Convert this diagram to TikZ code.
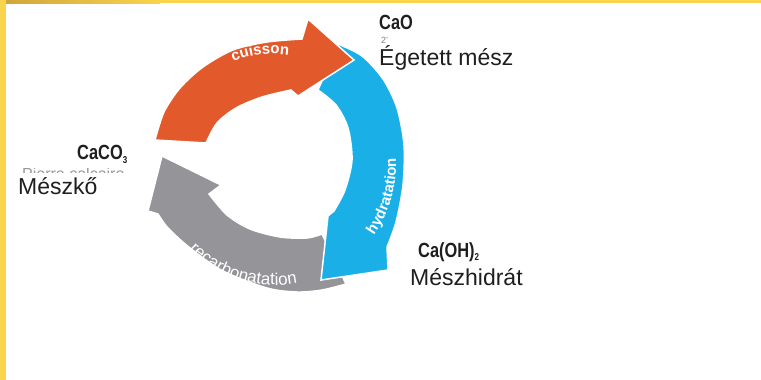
\documentclass[tikz,border=0pt]{standalone}
\usepackage{fontspec}
\setmainfont{Liberation Sans}
\newfontfamily\narrowfont[FakeStretch=0.8]{Liberation Sans}
\usetikzlibrary{calc,decorations.text}
\definecolor{redc}{HTML}{E2592C}
\definecolor{bluec}{HTML}{1BAFE8}
\definecolor{grayc}{HTML}{959599}
\definecolor{yel}{HTML}{F9D44C}
\definecolor{yeldark}{HTML}{CDA53C}
\definecolor{txt}{HTML}{1E1E1E}
\begin{document}
\begin{tikzpicture}[x=1pt,y=1pt,
  arrowshape/.style={draw=white, line width=1.5pt, line join=miter},
  chemlabel/.style={anchor=base west, inner sep=0pt, text=txt, font=\narrowfont\bfseries\fontsize{20.5}{22}\selectfont},
  namelabel/.style={anchor=base west, inner sep=0pt, text=txt, font=\fontsize{23}{26}\selectfont}]
\useasboundingbox (0,0) rectangle (761,-380);
\fill[white] (0,0) rectangle (761,-380);
\fill[yel] (0,0) rectangle (761,-3);
\shade[left color=yeldark, right color=yel] (0,0) rectangle (160,-3);
\fill[yel] (0,0) rectangle (6,-380);
\coordinate (O) at (274,-165);
% gray arrow
\filldraw[grayc, arrowshape] plot[smooth] coordinates {(346,-284) (322,-290) (297,-292) (267,-288) (223,-271) (190,-248) (168,-228) (158,-214)}
  -- (148,-211) -- (162,-156) -- (221,-185) -- (209,-194)
  -- plot[smooth] coordinates {(209,-194) (227,-215) (250,-229) (280,-237) (307,-238) (322,-234)} -- cycle;
% blue arrow
\filldraw[bluec, arrowshape] plot[smooth] coordinates {(338,-44) (362,-56) (383,-79) (397,-108) (404,-145) (403,-185) (396,-222) (387,-247)}
  -- (388,-270) -- (321,-280) -- (328,-216)
  -- plot[smooth] coordinates {(334,-211) (345,-190) (352,-160) (348,-128) (336,-105) (318,-90)} -- cycle;
% red arrow
\filldraw[redc, arrowshape] plot[smooth] coordinates {(155,-140) (164,-112) (180,-88) (203,-67) (233,-50) (267,-42) (302,-39)}
  -- (308,-19) -- (354,-60) -- (298,-96)
  -- plot[smooth] coordinates {(291,-90) (262,-97) (236,-108) (217,-123) (206,-143)} -- cycle;
% arrow labels
\path[decorate, decoration={text along path, text align=center,
  text={|\bfseries\fontsize{15}{15}\selectfont\color{white}|cuisson}}]
  ($(O)+(137:111)$) arc[start angle=137, end angle=57, radius=111];
\path[decorate, decoration={text along path, text align=center,
  text={|\bfseries\fontsize{15}{15}\selectfont\color{white}|hydratation}}]
  ($(O)+(-50:122)$) arc[start angle=-50, end angle=18, radius=122];
\path[decorate, decoration={text along path, text align=center,
  text={|\fontsize{17}{17}\selectfont\color{white}|recarbonatation}}]
  ($(O)+(-142:120)$) arc[start angle=-142, end angle=-72, radius=120];
% labels
\node[chemlabel] (cao) at (379,-30) {CaO};
\node[anchor=base west, inner sep=0pt, text=gray, font=\fontsize{9}{9}\selectfont] (art) at (381,-43) {2'};
\node[namelabel] (eg) at (379,-65) {Égetett mész};
\node[chemlabel] (caco) at (77,-159) {CaCO\raisebox{-4pt}{\fontsize{10}{10}\selectfont 3}};
\begin{scope}
\clip (15,-168.5) rectangle (140,-172.5);
\node[anchor=base west, inner sep=0pt, text=gray!80, font=\fontsize{16}{16}\selectfont] (pc) at (22,-179) {Pierre calcaire};
\end{scope}
\node[namelabel] (mk) at (18,-194) {Mészkő};
\node[chemlabel] (caoh) at (418,-257) {Ca(OH)\raisebox{-3pt}{\fontsize{10}{10}\selectfont 2}};
\node[namelabel] (mh) at (410,-285) {Mészhidrát};
\end{tikzpicture}
\end{document}
